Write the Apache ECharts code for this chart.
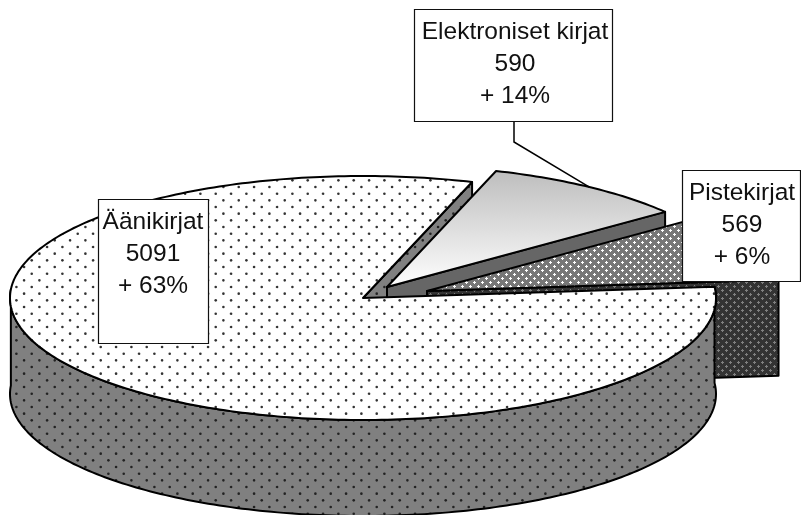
<!DOCTYPE html>
<html>
<head>
<meta charset="utf-8">
<title>Kirjat</title>
<script src="https://cdn.jsdelivr.net/npm/echarts@6/dist/echarts.min.js"></script>
<style>
  html, body { margin: 0; padding: 0; background: #fff; }
  #chart { width: 801px; height: 515px; }
</style>
</head>
<body>
<div id="chart"></div>
<script>
// values, slices run counterclockwise from startAngle
const categories = ["Äänikirjat", "Pistekirjat", "Elektroniset kirjat"];
const values = [5091, 569, 590];
const changes = ["+ 63%", "+ 6%", "+ 14%"];

// layout of the tilted pie
const startAngle = 72;
const wallStart = 176;
const center = [363, 298];
const rx = 353;
const ry = 122;
const depth = 96;
const explode = [[0, 0], [64, -7], [24, -11]];
// paint order: cut face of a slice, top and outer wall
const cutZ = [1, 4, 2];
const topZ = [7, 5, 3];
const boxes = [[98, 199, 110, 144], [682, 170, 118, 111], [414, 9, 198, 112]];
const textShift = [0, 1, 2];

function dotTile(base, dot) {
  const c = document.createElement("canvas");
  c.width = 46;
  c.height = 40;
  const ctx = c.getContext("2d");
  ctx.fillStyle = base;
  ctx.fillRect(0, 0, 46, 40);
  ctx.fillStyle = dot;
  for (let row = 0; row < 6; row++) {
    for (let col = 0; col < 3; col++) {
      const x = col * 15.33 + (row % 2 ? 7.67 : 0) + 1.07;
      const y = row * 6.67 + 7;
      // repeat over the tile edge so the pattern wraps
      [-46, 0, 46].forEach(function (dx) {
        [-40, 0, 40].forEach(function (dy) {
          ctx.beginPath();
          ctx.arc(x + dx, y + dy, 1.3, 0, Math.PI * 2);
          ctx.fill();
        });
      });
    }
  }
  return c;
}

function crossTile(base, blob) {
  const c = document.createElement("canvas");
  c.width = 8;
  c.height = 8;
  const ctx = c.getContext("2d");
  ctx.fillStyle = base;
  ctx.fillRect(0, 0, 8, 8);
  ctx.fillStyle = blob;
  [[2, 2], [6, 6]].forEach(function (p) {
    ctx.fillRect(p[0] - 1, p[1], 3, 1);
    ctx.fillRect(p[0], p[1] - 1, 1, 3);
  });
  return c;
}

const pattern = (canvas) => ({ image: canvas, repeat: "repeat" });
const topFill = [
  pattern(dotTile("#ffffff", "#333333")),
  pattern(crossTile("#777777", "#ffffff")),
  new echarts.graphic.LinearGradient(0, 0, 0, 1, [
    { offset: 0, color: "#bdbdbd" },
    { offset: 1, color: "#ffffff" },
  ]),
];
const wallFill = [
  pattern(dotTile("#808080", "#222222")),
  pattern(crossTile("#333333", "#808080")),
  "#666666",
];

const total = values.reduce((a, b) => a + b, 0);
const sliceAngles = [];
values.reduce(function (from, v) {
  const to = from + (v / total) * 360;
  sliceAngles.push([from, to]);
  return to;
}, startAngle);

function ellipsePoint(o, deg, drop) {
  const t = (deg * Math.PI) / 180;
  return [o[0] + rx * Math.cos(t), o[1] - ry * Math.sin(t) + (drop || 0)];
}

function arcPoints(o, from, to, drop) {
  const pts = [];
  for (let a = from; a < to; a += 1) pts.push(ellipsePoint(o, a, drop));
  pts.push(ellipsePoint(o, to, drop));
  return pts;
}

function face(points, fill, z2) {
  return {
    type: "polygon",
    z2: z2,
    shape: { points: points },
    style: { fill: fill, stroke: "#000", lineWidth: 2, lineJoin: "round" },
  };
}

function renderSlice(params, api) {
  const i = api.value(0);
  const [from, to] = sliceAngles[i];
  const o = [center[0] + explode[i][0], center[1] + explode[i][1]];
  const children = [];

  // cut face along the first edge
  const edge = ellipsePoint(o, from);
  children.push(
    face(
      [o, edge, [edge[0], edge[1] + depth], [o[0], o[1] + depth]],
      wallFill[i],
      cutZ[i]
    )
  );

  // outer wall, only the slice that crosses the front of the pie
  if (from < wallStart && to > wallStart) {
    const upper = arcPoints(o, wallStart, to);
    const lower = arcPoints(o, wallStart, to, depth).reverse();
    children.push(face(upper.concat(lower), wallFill[i], topZ[i] - 1));
  }

  // top of the slice
  children.push(face([o].concat(arcPoints(o, from, to)), topFill[i], topZ[i]));

  // label box
  const b = boxes[i];
  children.push({
    type: "rect",
    z2: 10,
    shape: { x: b[0] + 0.5, y: b[1] + 0.5, width: b[2], height: b[3] },
    style: { fill: "#fff", stroke: "#111", lineWidth: 1.2 },
  });
  children.push({
    type: "text",
    z2: 11,
    style: {
      x: b[0] + b[2] / 2 + textShift[i],
      y: b[1] + 7,
      text: [categories[i], values[i], changes[i]].join("\n"),
      fill: "#111",
      font: '24.5px "Liberation Sans", Arial, sans-serif',
      lineHeight: 32,
      align: "center",
      verticalAlign: "top",
    },
  });

  // leader from the box to the middle of the arc, only the slice far from its box
  if (i === 2) {
    const mid = ellipsePoint(o, (from + to) / 2);
    const bx = b[0] + 100;
    const by = b[1] + b[3];
    children.push({
      type: "polyline",
      z2: 9,
      shape: { points: [[bx, by], [bx, by + 21], mid] },
      style: { fill: null, stroke: "#000", lineWidth: 1.5 },
    });
  }

  return { type: "group", children: children };
}

const chart = echarts.init(document.getElementById("chart"));
chart.setOption({
  animation: false,
  backgroundColor: "#fff",
  series: [
    {
      type: "custom",
      coordinateSystem: "none",
      silent: true,
      data: categories.map((name, i) => ({ name: name, value: [i, values[i]] })),
      encode: { value: 1 },
      renderItem: renderSlice,
    },
  ],
});
</script>
</body>
</html>
